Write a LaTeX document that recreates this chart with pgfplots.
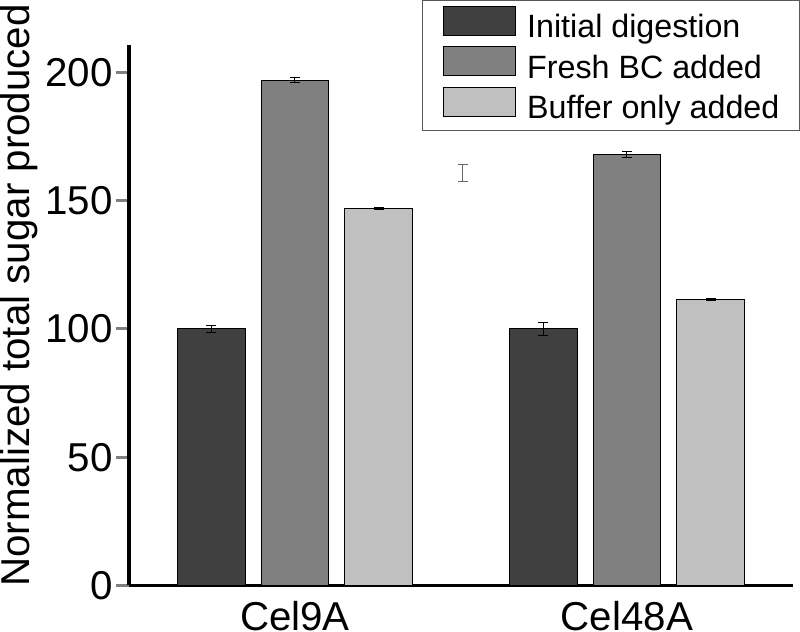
\documentclass[border=0pt]{standalone}
\usepackage{pgfplots}
\pgfplotsset{compat=1.18}
\usepackage{fontspec}
\setmainfont{Liberation Sans}

\definecolor{dark}{HTML}{404040}
\definecolor{mid}{HTML}{808080}
\definecolor{light}{HTML}{C0C0C0}

\begin{document}
\begin{tikzpicture}
\begin{axis}[
    scale only axis,
    width=659pt, height=536pt,
    xmin=-0.5, xmax=1.5,
    ymin=0, ymax=210.6,
    axis lines*=left,
    axis line style={-, line width=3pt},
    xtick={0,1},
    xticklabels={Cel9A, Cel48A},
    xtick style={draw=none},
    ytick={0,50,100,150,200},
    ytick style={line width=3pt},
    tick align=outside,
    major tick length=13pt,
    /pgf/number format/assume math mode=true,
    tick label style={font=\fontsize{40}{46}\selectfont},
    xticklabel style={anchor=north, inner sep=0pt, yshift=-3pt},
    yticklabel style={inner sep=0pt, xshift=-3pt},
    ylabel={Normalized total sugar produced},
    ylabel style={font=\fontsize{40}{46}\selectfont, at={(axis description cs:-0.166,0.537)}, anchor=center, inner sep=0pt},
    clip=false,
    legend style={
        at={(axis description cs:1.0106,1.084)}, anchor=north east,
        draw=gray!70!black, fill=white, line width=1pt,
        font=\fontsize{32}{38}\selectfont,
        nodes={inner sep=0pt, text height=23pt, text depth=6pt},
        row sep=2.3pt, column sep=11pt,
        inner xsep=20pt, inner ysep=5pt,
        cells={anchor=west},
    },
    legend image code/.code={\draw[#1, line width=1pt] (0pt,-6pt) rectangle (72pt,23pt);},
    error bars/error bar style={line width=1pt, black},
    error bars/error mark options={rotate=90, mark size=5pt, line width=1pt, black},
]

% Initial digestion
\addplot[ybar, bar width=0.203, bar shift=0, fill=dark, draw=black, line width=1pt,
    error bars/.cd, y dir=both, y explicit]
    coordinates {(-0.252,100) +- (0,1.5) (0.748,100) +- (0,2.4)};
% Fresh BC added
\addplot[ybar, bar width=0.203, bar shift=0, fill=mid, draw=black, line width=1pt,
    error bars/.cd, y dir=both, y explicit]
    coordinates {(0,197) +- (0,1.0) (1,168) +- (0,1.2)};
% Buffer only added
\addplot[ybar, bar width=0.203, bar shift=0, fill=light, draw=black, line width=1pt,
    error bars/.cd, y dir=both, y explicit]
    coordinates {(0.252,147) +- (0,0.5) (1.252,111.5) +- (0,0.5)};

% stray error bar
\addplot[sharp plot, draw=none, mark=none, forget plot,
    error bars/.cd, y dir=both, y explicit,
    error bar style={gray!80!black}, error mark options={rotate=90, mark size=5pt, gray!80!black, line width=1pt}]
    coordinates {(0.505,161) +- (0,3.3)};

\legend{Initial digestion, Fresh BC added, Buffer only added}
\end{axis}
\end{tikzpicture}
\end{document}
